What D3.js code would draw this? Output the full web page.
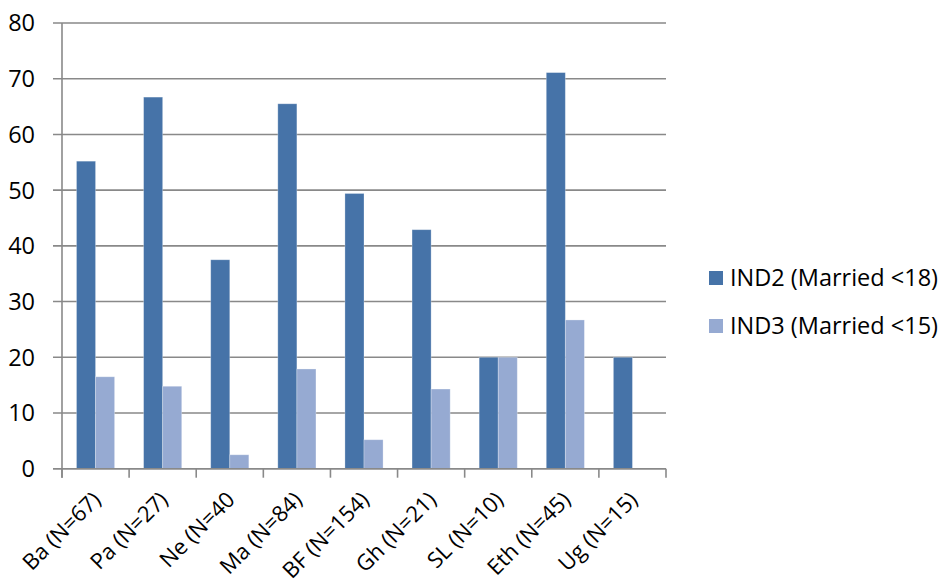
<!DOCTYPE html>
<html><head><meta charset="utf-8">
<script src="https://cdn.jsdelivr.net/npm/d3@7"></script>
<style>html,body{margin:0;padding:0;background:#fff}</style>
</head><body>
<svg id="chart" width="939" height="586"></svg>
<script>
const categories = ["Ba (N=67)","Pa (N=27)","Ne (N=40","Ma (N=84)","BF (N=154)","Gh (N=21)","SL (N=10)","Eth (N=45)","Ug (N=15)"];
const seriesNames = ["IND2 (Married <18)","IND3 (Married <15)"];
const ind2 = [55.2, 66.7, 37.5, 65.5, 49.4, 42.9, 20.0, 71.1, 20.0];
const ind3 = [16.5, 14.8, 2.5, 17.9, 5.2, 14.3, 20.0, 26.7, null];
const yTicks = [0,10,20,30,40,50,60,70,80];
const colors = ["#4673a8","#96aad2"];

const svg = d3.select("#chart");
const font = "'Open Sans', sans-serif";
const L = 62, R = 666, T = 23, B = 468.7;
const x0 = d3.scaleBand().domain(categories).range([L, R]).padding(0);
const x1 = d3.scaleBand().domain(seriesNames).range([0, x0.bandwidth()]).paddingInner(0).paddingOuter(0.76);
const y = d3.scaleLinear().domain([0, 80]).range([B, T]);
const gridColor = "#898989";

// gridlines
svg.append("g").selectAll("line").data(yTicks).join("line")
  .attr("x1", L - 9).attr("x2", R)
  .attr("y1", d => y(d)).attr("y2", d => y(d))
  .attr("stroke", gridColor).attr("stroke-width", 1.6);

// y labels
svg.append("g").selectAll("text").data(yTicks).join("text")
  .attr("x", 35).attr("y", d => y(d)).attr("dy", "0.36em")
  .attr("text-anchor", "end").attr("font-family", font).attr("font-size", 23.5)
  .attr("fill", "#000").text(d => d);

// bars
const data = [ind2, ind3];
const gBars = svg.append("g");
data.forEach((vals, si) => {
  gBars.selectAll(null).data(vals.map((v, i) => ({v, c: categories[i]})).filter(d => d.v != null)).join("rect")
    .attr("x", d => x0(d.c) + x1(seriesNames[si]))
    .attr("width", x1.bandwidth())
    .attr("y", d => y(d.v))
    .attr("height", d => y(0) - y(d.v))
    .attr("fill", colors[si])
    .attr("stroke", "rgba(255,255,255,0.35)").attr("stroke-width", 0.8);
});

// axes lines
svg.append("line").attr("x1", L).attr("x2", L).attr("y1", T).attr("y2", B + 9)
  .attr("stroke", gridColor).attr("stroke-width", 1.6);
svg.append("line").attr("x1", L - 9).attr("x2", R).attr("y1", B).attr("y2", B)
  .attr("stroke", gridColor).attr("stroke-width", 1.6);
// x ticks at category boundaries
const bounds = categories.map(c => x0(c)).concat([R]);
svg.append("g").selectAll("line").data(bounds).join("line")
  .attr("x1", d => d).attr("x2", d => d).attr("y1", B).attr("y2", B + 9)
  .attr("stroke", gridColor).attr("stroke-width", 1.6);

// x labels
svg.append("g").selectAll("text").data(categories).join("text")
  .attr("transform", d => `translate(${x0(d) + x0.bandwidth()/2 + 1},${B + 27}) rotate(-45)`)
  .attr("text-anchor", "end").attr("dy", "0.35em")
  .attr("font-family", font).attr("font-size", 22).attr("fill", "#000")
  .text(d => d);

// legend
const leg = svg.append("g");
seriesNames.forEach((s, i) => {
  const yy = 278 + i * 48;
  leg.append("rect").attr("x", 709).attr("y", yy - 7).attr("width", 14).attr("height", 14).attr("fill", colors[i]);
  leg.append("text").attr("x", 730).attr("y", yy).attr("dy", "0.35em")
    .attr("font-family", font).attr("font-size", 23.5).attr("fill", "#000").text(s);
});
</script>
</body></html>
